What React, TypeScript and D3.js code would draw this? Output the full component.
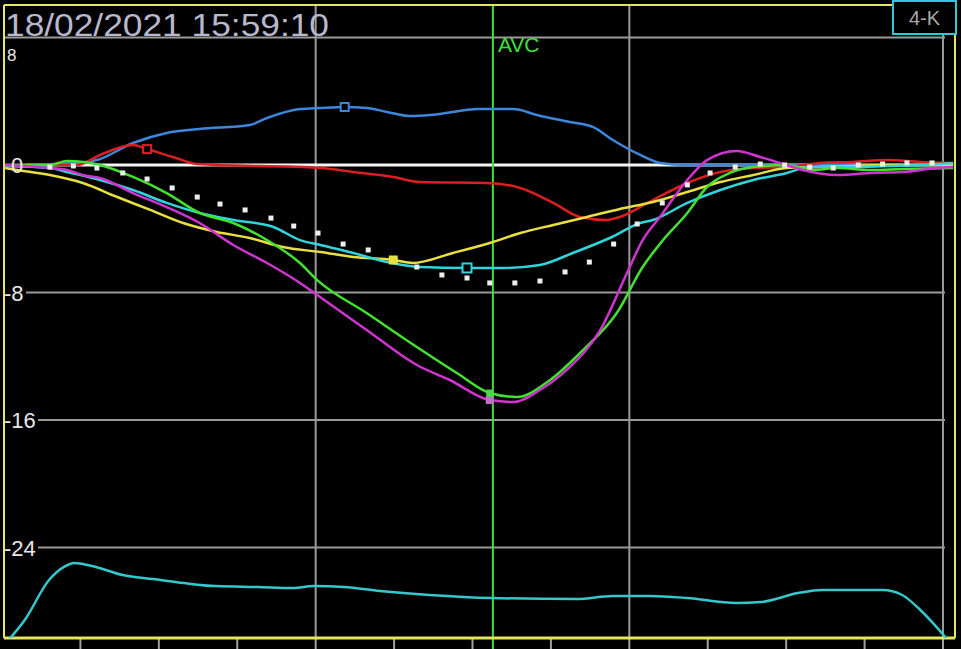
import React from "react";
import * as d3 from "d3";

type P = [number, number];

const TITLE = "18/02/2021 15:59:10";
const BOX_LABEL = "4-K";
const EVENT_LABEL = "AVC";
const EVENT_T = 6.26;

const X_TICKS = [1, 2, 3, 4, 5, 6, 7, 8, 9, 10, 11, 12];
const V_GRID = [4, 8, 12];
const H_GRID = [8, -8, -16, -24];
const Y_LABEL_VALUES = [8, 0, -8, -16, -24];
const Y_LABELS = ["8", "0", "-8", "-16", "-24"];

const blueSeries: P[] = [[0.04,0],[0.96,0.13],[1.21,0.31],[1.67,1.38],[2.10,2.01],[2.52,2.26],[3.16,2.51],[3.38,2.95],[3.80,3.51],[4.06,3.58],[4.37,3.64],[4.65,3.58],[4.91,3.33],[5.20,3.07],[5.46,3.14],[5.75,3.33],[6.06,3.51],[6.52,3.51],[6.82,3.14],[7.24,2.70],[7.54,2.38],[7.79,1.57],[8.14,0.63],[8.39,0.13],[8.74,0],[12.13,0]];
const redSeries: P[] = [[0.04,0],[0.96,0],[1.25,0.63],[1.67,1.25],[1.85,1.00],[2.18,0.50],[2.49,0.06],[4.06,-0.19],[4.48,-0.44],[4.99,-0.75],[5.33,-1.07],[6.18,-1.13],[6.61,-1.44],[7.03,-2.38],[7.37,-3.26],[7.71,-3.45],[7.88,-3.26],[8.30,-2.20],[8.74,-1.13],[9.16,-0.44],[9.58,-0.19],[10.01,-0.13],[10.43,0.13],[10.85,0.19],[11.29,0.31],[11.71,0.19],[12.13,0.13]];
const yellowSeries: P[] = [[0.04,-0.19],[0.19,-0.31],[0.61,-0.63],[1.03,-1.13],[1.47,-2.01],[1.89,-2.82],[2.31,-3.64],[2.74,-4.20],[3.16,-4.58],[3.58,-5.15],[4.06,-5.46],[4.48,-5.77],[4.99,-5.96],[5.24,-6.15],[5.75,-5.52],[6.22,-4.89],[6.61,-4.27],[7.03,-3.76],[7.46,-3.26],[7.88,-2.76],[8.30,-2.32],[8.74,-1.69],[9.16,-1.07],[9.58,-0.63],[10.01,-0.19],[10.43,-0.13],[10.85,-0.06],[11.29,0],[12.13,0]];
const cyanSeries: P[] = [[0.04,-0.06],[0.61,-0.19],[0.83,-0.44],[1.25,-0.94],[1.67,-1.57],[2.10,-2.38],[2.52,-3.01],[2.95,-3.45],[3.46,-3.89],[3.80,-4.71],[4.06,-5.02],[4.48,-5.52],[4.91,-6.09],[5.33,-6.40],[5.93,-6.46],[6.39,-6.46],[6.86,-6.27],[7.28,-5.52],[7.75,-4.58],[8.14,-3.64],[8.30,-3.45],[8.74,-2.38],[9.16,-1.57],[9.58,-0.94],[10.01,-0.50],[10.30,-0.13],[10.85,-0.13],[11.29,-0.06],[11.71,0],[12.13,0.13]];
const greenSeries: P[] = [[0.04,0],[0.61,0],[0.83,0.25],[1.25,0],[1.67,-0.75],[2.10,-1.76],[2.52,-3.01],[2.95,-3.64],[3.38,-4.71],[3.80,-6.15],[4.02,-7.22],[4.65,-9.29],[5.29,-11.42],[5.80,-13.05],[6.22,-14.31],[6.57,-14.56],[6.99,-13.49],[7.41,-11.61],[7.84,-9.29],[8.17,-6.40],[8.43,-4.71],[8.74,-3.01],[8.99,-1.38],[9.28,-0.50],[9.58,-0.13],[10.01,0],[10.34,-0.31],[10.65,-0.19],[11.07,-0.31],[11.49,-0.25],[12.13,-0.19]];
const magentaSeries: P[] = [[0.04,0],[0.61,-0.19],[0.83,-0.31],[1.03,-0.63],[1.25,-0.82],[1.67,-1.76],[2.10,-2.64],[2.52,-3.64],[2.95,-5.02],[3.38,-6.15],[3.80,-7.40],[4.02,-8.16],[4.65,-10.35],[5.29,-12.55],[5.71,-13.49],[6.22,-14.75],[6.52,-14.87],[6.86,-14.12],[7.20,-12.86],[7.63,-10.35],[7.97,-6.78],[8.17,-4.71],[8.39,-3.26],[8.74,-0.94],[8.99,0.31],[9.37,0.88],[9.67,0.50],[9.92,0.13],[10.21,-0.31],[10.65,-0.63],[11.07,-0.50],[11.49,-0.44],[11.92,-0.19],[12.13,-0.13]];
const whiteDots: P[] = [[0.61,-0.13],[0.91,-0.06],[1.21,-0.19],[1.54,-0.50],[1.85,-0.88],[2.17,-1.44],[2.49,-2.01],[2.78,-2.45],[3.10,-2.82],[3.43,-3.33],[3.72,-3.83],[4.03,-4.27],[4.35,-4.96],[4.67,-5.33],[4.97,-5.90],[5.29,-6.40],[5.61,-6.90],[5.93,-7.09],[6.22,-7.40],[6.54,-7.40],[6.86,-7.28],[7.18,-6.71],[7.49,-6.09],[7.80,-4.96],[8.10,-3.70],[8.42,-2.38],[8.74,-1.25],[9.03,-0.50],[9.35,-0.13],[9.67,0.06],[9.98,0],[10.30,-0.13],[10.60,-0.19],[10.92,0],[11.23,0.06],[11.54,0.13],[11.86,0.13]];
const bottomSeries: P[] = [[0.05,-29.99],[0.29,-28.55],[0.60,-26.04],[0.79,-25.22],[0.92,-24.97],[1.15,-25.16],[1.54,-25.73],[1.93,-25.98],[2.32,-26.23],[2.72,-26.42],[3.26,-26.48],[3.72,-26.54],[3.97,-26.42],[4.36,-26.48],[4.82,-26.73],[5.45,-26.98],[6.24,-27.17],[7.33,-27.23],[7.79,-27.04],[8.26,-27.04],[8.74,-27.17],[9.36,-27.48],[9.68,-27.42],[10.15,-26.86],[10.46,-26.67],[11.23,-26.67],[11.48,-26.98],[11.71,-27.92],[11.95,-29.17],[12.14,-30.30]];

const MARKERS: { p: P; color: string; fill: boolean; size: number }[] = [
  { p: [4.37, 3.64], color: "#3d86dc", fill: false, size: 8 },
  { p: [1.85, 1.0], color: "#d82020", fill: false, size: 8 },
  { p: [4.99, -5.96], color: "#e8e040", fill: true, size: 7 },
  { p: [5.93, -6.46], color: "#30d4dc", fill: false, size: 9 },
  { p: [6.22, -14.75], color: "#c070c0", fill: true, size: 6 },
  { p: [6.22, -14.31], color: "#40e040", fill: true, size: 5 },
];

const W = 961;
const H = 649;
const FONT = "'Liberation Sans', Arial, sans-serif";

export default function App() {
  const x = d3.scaleLinear().domain([0, 12]).range([2, 943]);
  const y = d3.scaleLinear().domain([8, -24]).range([37.5, 547.5]);
  const line = d3
    .line<P>()
    .x((d) => x(d[0]))
    .y((d) => y(d[1]))
    .curve(d3.curveMonotoneX);

  const series: { data: P[]; color: string }[] = [
    { data: bottomSeries, color: "#34c8cc" },
    { data: blueSeries, color: "#3d86dc" },
    { data: redSeries, color: "#d82020" },
    { data: yellowSeries, color: "#e8e040" },
    { data: cyanSeries, color: "#30d4dc" },
    { data: greenSeries, color: "#44e030" },
    { data: magentaSeries, color: "#d034d0" },
  ];

  const left = 4, right = 955, top = 5, bottom = 638;

  return (
    <>
      <style>{`body{margin:0;background:#000;}`}</style>
      <svg width={W} height={H} style={{ display: "block", background: "#000" }}>
        <defs>
          <clipPath id="plotclip">
            <rect x={left} y={top} width={right - left} height={bottom - top} />
          </clipPath>
        </defs>
        <rect x={0} y={0} width={W} height={H} fill="#000" />
        {V_GRID.map((t) => (
          <line key={"v" + t} x1={x(t)} x2={x(t)} y1={top} y2={bottom} stroke="#9a9a9a" strokeWidth={2} />
        ))}
        {H_GRID.map((v) => (
          <line
            key={"h" + v}
            x1={v === 8 ? left : v === -8 ? 26 : 38}
            x2={945}
            y1={y(v)}
            y2={y(v)}
            stroke="#9a9a9a"
            strokeWidth={2}
          />
        ))}
        <line x1={26} x2={945} y1={y(0)} y2={y(0)} stroke="#f4f4f4" strokeWidth={3} />
        {X_TICKS.map((t) => (
          <line key={"t" + t} x1={x(t)} x2={x(t)} y1={bottom} y2={H} stroke="#a0a0a0" strokeWidth={2} />
        ))}
        <line x1={x(EVENT_T)} x2={x(EVENT_T)} y1={top} y2={H} stroke="#3ee03e" strokeWidth={2} />
        <text x={x(EVENT_T) + 5} y={52} fill="#3ee03e" fontFamily={FONT} fontSize={21}>
          {EVENT_LABEL}
        </text>
        <line x1={left} x2={893} y1={top} y2={top} stroke="#e6e65a" strokeWidth={2} />
        <line x1={left} x2={left} y1={top} y2={bottom} stroke="#e6e65a" strokeWidth={2} />
        <line x1={left} x2={right} y1={bottom} y2={bottom} stroke="#e6e65a" strokeWidth={3} />
        <line x1={right} x2={right} y1={34} y2={bottom} stroke="#e6e65a" strokeWidth={2} />
        <g clipPath="url(#plotclip)">
          {series.map((s, i) => (
            <path key={i} d={line(s.data) || ""} fill="none" stroke={s.color} strokeWidth={2.5} strokeLinejoin="round" />
          ))}
          {whiteDots.map((d, i) => (
            <rect key={"d" + i} x={x(d[0]) - 2.5} y={y(d[1]) - 2.5} width={5} height={5} fill="#eeeeee" />
          ))}
          {MARKERS.map((m, i) => (
            <rect
              key={"m" + i}
              x={x(m.p[0]) - m.size / 2}
              y={y(m.p[1]) - m.size / 2}
              width={m.size}
              height={m.size}
              fill={m.fill ? m.color : "#000"}
              stroke={m.color}
              strokeWidth={2}
            />
          ))}
        </g>
        {Y_LABEL_VALUES.map((v, i) => (
          <text
            key={"yl" + v}
            x={v === 8 ? 7 : v === 0 ? 11 : 4}
            y={v === 8 ? 61 : y(v) + 8}
            fill="#e8e8e8"
            fontFamily={FONT}
            fontSize={v === 8 ? 17 : 22}
          >
            {Y_LABELS[i]}
          </text>
        ))}
        <text
          x={5}
          y={36}
          fill="#b8b8cc"
          fontFamily={FONT}
          fontSize={31}
          textLength={324}
          lengthAdjust="spacingAndGlyphs"
        >
          {TITLE}
        </text>
        <rect x={893} y={1} width={63} height={33} fill="#000" stroke="#30c8d4" strokeWidth={2} />
        <text x={924.5} y={25} textAnchor="middle" fill="#a8a8a8" fontFamily={FONT} fontSize={20}>
          {BOX_LABEL}
        </text>
      </svg>
    </>
  );
}
